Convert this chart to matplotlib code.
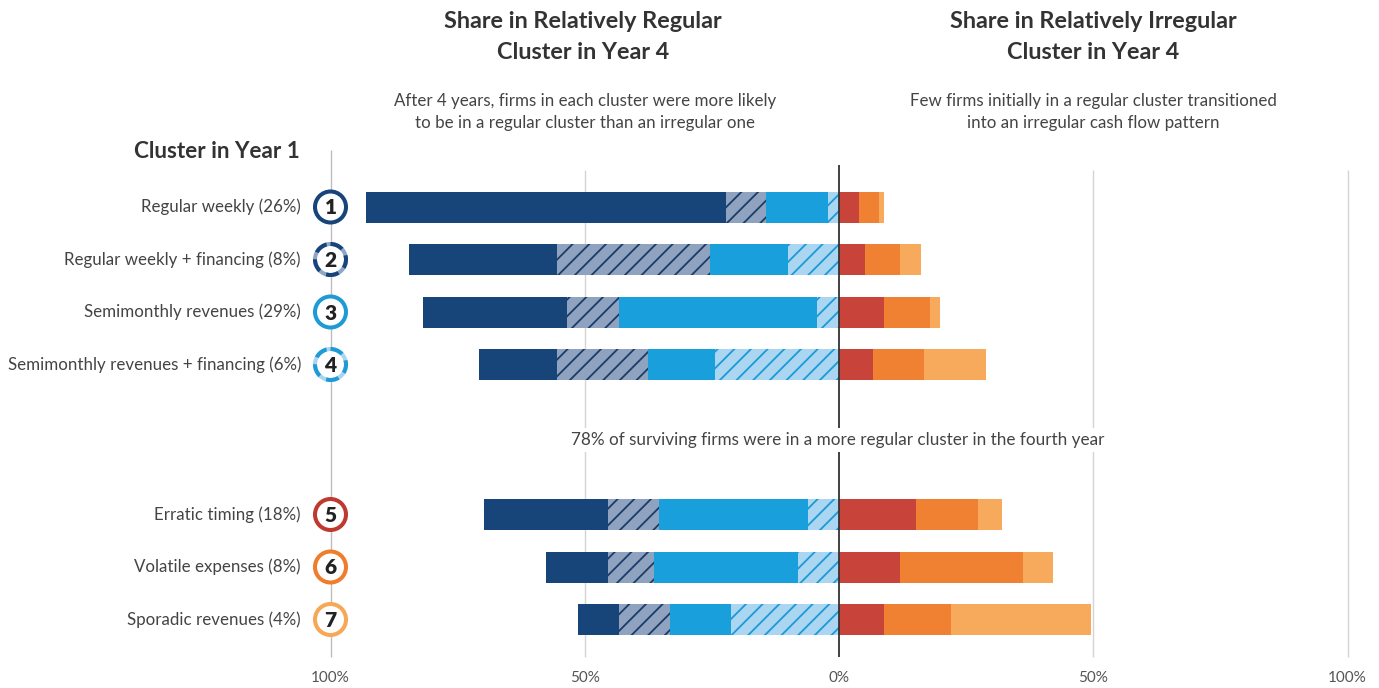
import matplotlib
matplotlib.use("Agg")
import matplotlib.pyplot as plt
from matplotlib.patches import Ellipse
import numpy as np

plt.rcParams['font.family'] = ['Lato', 'DejaVu Sans']
plt.rcParams['hatch.linewidth'] = 1.3

# ---------------- data ----------------
categories = ["Regular weekly (26%)", "Regular weekly + financing (8%)",
              "Semimonthly revenues (29%)", "Semimonthly revenues + financing (6%)",
              "Erratic timing (18%)", "Volatile expenses (8%)", "Sporadic revenues (4%)"]
cluster_ids = ["1", "2", "3", "4", "5", "6", "7"]
# share of firms in each Year-4 cluster (percent)
to_c1 = [70.7, 29.0, 28.5, 15.2, 24.3, 12.1, 8.0]
to_c2 = [7.9, 30.1, 10.1, 17.9, 10.1, 9.1, 10.1]
to_c3 = [12.3, 15.3, 39.0, 13.2, 29.4, 28.4, 12.0]
to_c4 = [2.1, 10.1, 4.3, 24.4, 6.0, 8.0, 21.2]
to_c5 = [4.0, 5.1, 8.8, 6.7, 15.1, 12.0, 8.8]
to_c6 = [3.8, 6.8, 9.0, 10.0, 12.2, 24.2, 13.2]
to_c7 = [1.0, 4.3, 2.1, 12.2, 4.8, 5.8, 27.5]
tick_values = [-100, -50, 0, 50, 100]
tick_labels = ["100%", "50%", "0%", "50%", "100%"]

# ---------------- styles ----------------
NAVY = "#174479"
NAVY_H_BG = "#8fa3c0"
NAVY_H_LN = "#1c3c68"
LBLUE = "#19a0dc"
LBLUE_H_BG = "#aad6f1"
LBLUE_H_LN = "#1a9ad8"
RED = "#c8443a"
ORANGE = "#f08132"
LORANGE = "#f7aa5c"
ring_main = [NAVY, NAVY, "#1e9ad6", "#1e9ad6", "#c0392f", "#ef7d2c", "#f6a855"]
ring_alt = [None, "#8ea7c6", None, "#a9d5f0", None, None, None]

W, H = 1379, 688
fig = plt.figure(figsize=(W / 100, H / 100), dpi=100)
x_left, x_right = 330.5, 1347.5
ax = fig.add_axes([x_left / W, 0, (x_right - x_left) / W, 1])
ax.set_xlim(-100, 100)
ax.set_ylim(H, 0)
ax.axis("off")
xscale = (x_right - x_left) / 200.0

def fx(x):
    return x / W

def fy(y):
    return 1 - y / H

# row positions (pixel units)
row_step = 52.5
ypos = []
for i in range(len(categories)):
    y = 207 + row_step * i
    if i >= 4:
        y += 150 - row_step
    ypos.append(y)
ypos = np.array(ypos)
bh = 31

# gridlines
ax.vlines([-50, 50, 100], 170, 657, color="#d4d4d4", lw=1.0, zorder=0, clip_on=False)
ax.vlines([-100], 150, 657, color="#bdbdbd", lw=1.0, zorder=0, clip_on=False)

# left bars (stacked outward from zero: c4, c3, c2, c1)
left_series = [(to_c4, LBLUE_H_BG, LBLUE_H_LN, "//"),
               (to_c3, LBLUE, LBLUE, None),
               (to_c2, NAVY_H_BG, NAVY_H_LN, "//"),
               (to_c1, NAVY, NAVY, None)]
cum = np.zeros(len(categories))
for vals, fc, ec, hatch in left_series:
    vals = np.array(vals)
    ax.barh(ypos, vals, left=-(cum + vals), height=bh, color=fc,
            edgecolor=ec, hatch=hatch, lw=0, zorder=2)
    cum += vals

# right bars
right_series = [(to_c5, RED), (to_c6, ORANGE), (to_c7, LORANGE)]
cum = np.zeros(len(categories))
for vals, fc in right_series:
    vals = np.array(vals)
    ax.barh(ypos, vals, left=cum, height=bh, color=fc, lw=0, zorder=2)
    cum += vals

# zero line
ax.vlines([0], 165, 657, color="#333333", lw=1.3, zorder=3)

# circles with numbers
for i, y in enumerate(ypos):
    d = 31
    if ring_alt[i] is None:
        e = Ellipse((-100, y), d / xscale, d, facecolor="white",
                    edgecolor=ring_main[i], lw=2.9, zorder=4, clip_on=False)
        ax.add_patch(e)
    else:
        e = Ellipse((-100, y), d / xscale, d, facecolor="white",
                    edgecolor=ring_alt[i], lw=2.9, zorder=4, clip_on=False)
        ax.add_patch(e)
        e2 = Ellipse((-100, y), d / xscale, d, facecolor="none",
                     edgecolor=ring_main[i], lw=2.9, zorder=5, clip_on=False,
                     linestyle=(0, (3.2, 1.8)))
        ax.add_patch(e2)
    ax.text(-100, y + 1, cluster_ids[i], ha="center", va="center",
            fontsize=15, fontweight="heavy", color="#222222", zorder=6)
    fig.text(fx(301), fy(y), categories[i], ha="right", va="center",
             fontsize=12.2, color="#444444")

# tick labels
for v, lab in zip(tick_values, tick_labels):
    ax.text(v, 678, lab, ha="center", va="center", fontsize=11, color="#555555",
            clip_on=False)

# titles
fig.text(fx(583), fy(37), "Share in Relatively Regular\nCluster in Year 4",
         ha="center", va="center", fontsize=16.8, fontweight="bold",
         color="#333333", linespacing=1.55)
fig.text(fx(1093), fy(37), "Share in Relatively Irregular\nCluster in Year 4",
         ha="center", va="center", fontsize=16.8, fontweight="bold",
         color="#333333", linespacing=1.55)
fig.text(fx(585), fy(112), "After 4 years, firms in each cluster were more likely\nto be in a regular cluster than an irregular one",
         ha="center", va="center", fontsize=12.2, color="#444444", linespacing=1.5)
fig.text(fx(1093), fy(112), "Few firms initially in a regular cluster transitioned\ninto an irregular cash flow pattern",
         ha="center", va="center", fontsize=12.2, color="#444444", linespacing=1.5)
fig.text(fx(134), fy(152), "Cluster in Year 1", ha="left", va="center",
         fontsize=16.2, fontweight="bold", color="#333333")
fig.text(fx(838), fy(440), "78% of surviving firms were in a more regular cluster in the fourth year",
         ha="center", va="center", fontsize=12.3, color="#444444", zorder=10,
         bbox=dict(facecolor="white", edgecolor="none", pad=3))

fig.savefig("out.png", dpi=100, facecolor="white")
